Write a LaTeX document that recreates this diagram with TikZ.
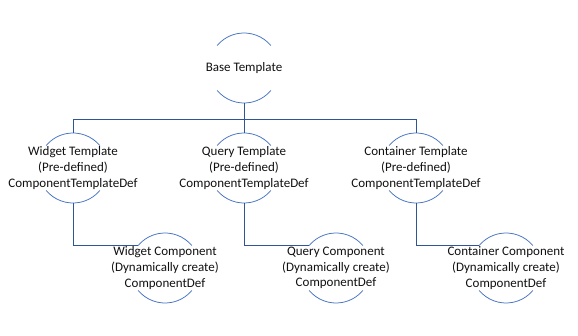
\documentclass[tikz,border=0pt]{standalone}
\usepackage{fontspec}
\setmainfont{Carlito}
\begin{document}
\definecolor{ringblue}{HTML}{4472C4}
\definecolor{wireblue}{HTML}{2F5597}
\definecolor{labelink}{HTML}{111111}
\begin{tikzpicture}[x=1pt,y=1pt,
  ring/.style={circle,minimum size=70pt,inner sep=0pt,outer sep=0pt,draw=none},
  caption/.style={font=\fontsize{13}{15.8}\selectfont,text=labelink,
    align=center,inner sep=0pt},
  rim/.style={draw=ringblue,line width=0.75pt},
  wire/.style={draw=wireblue,line width=0.9pt}]
\useasboundingbox (0,0) rectangle (578,-336);
\fill[white] (0,0) rectangle (578,-336);

% circles with their captions set in the middle
\node[ring,label={[caption]center:Base Template}] (base) at (244,-68) {};
\node[ring,label={[caption]center:Widget Template\\(Pre-defined)\\ComponentTemplateDef}] (wt) at (73,-168) {};
\node[ring,label={[caption]center:Query Template\\(Pre-defined)\\ComponentTemplateDef}] (qt) at (244,-168) {};
\node[ring,label={[caption]center:Container Template\\(Pre-defined)\\ComponentTemplateDef}] (ct) at (416,-168) {};
\node[ring,label={[caption]center:Widget Component\\(Dynamically create)\\ComponentDef}] (wc) at (165,-268) {};
\node[ring,label={[caption]center:Query Component\\(Dynamically create)\\ComponentDef}] (qc) at (336,-268) {};
\node[ring,label={[caption]center:Container Component\\(Dynamically create)\\ComponentDef}] (cc) at (506,-268) {};

% only the upper and lower arcs of each circle are shown
\foreach \n in {base,wt,qt,ct,wc,qc,cc}{
  \draw[rim] (\n.40) arc[start angle=40,end angle=140,radius=35pt];
  \draw[rim] (\n.220) arc[start angle=220,end angle=320,radius=35pt];
}

% tree connectors
\coordinate (bus) at (244,-119);
\draw[wire] (base.south) -- (bus);
\draw[wire] (bus) -| (wt.north);
\draw[wire] (bus) -- (qt.north);
\draw[wire] (bus) -| (ct.north);
\draw[wire] (wt.south) |- (wc.140);
\draw[wire] (qt.south) |- (qc.140);
\draw[wire] (ct.south) |- (cc.140);
\end{tikzpicture}
\end{document}
